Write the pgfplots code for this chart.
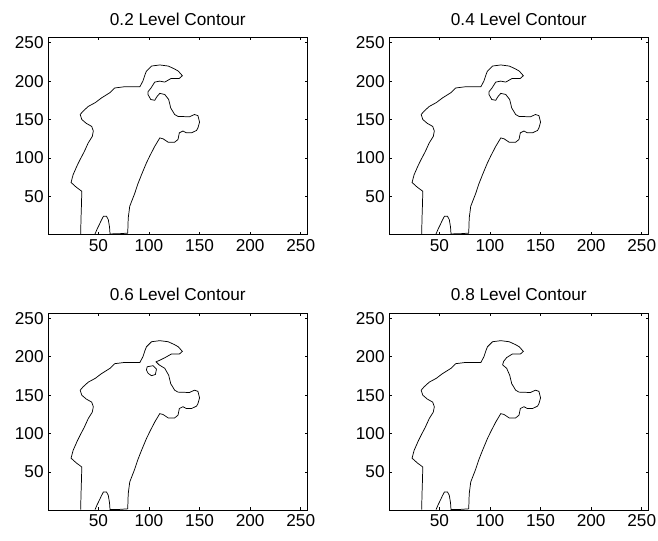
\documentclass[border=0pt]{standalone}
\usepackage{fontspec}
\setmainfont{Liberation Sans}
\usepackage{pgfplots}
\usepackage{pgfplotstable}
\pgfplotsset{compat=1.18}

% Plot 1 / 2 outline (0.2 and 0.4 levels)
\pgfplotstableread[row sep=\\]{
x y\\
32.5 1\\ 32.8 20\\ 33.3 40\\ 33.6 56.5\\ 28 62\\ 23 68\\ 25 78\\ 29 90\\ 32 98\\ 36 108\\ 40 119.6\\ 44 128\\ 45 135\\ 43.4 141\\ 38 145\\ 33.6 150\\ 32 156.5\\ 35 161\\ 40 167\\ 47 172\\ 53 178\\ 61.5 185\\ 66 191\\ 75 192.5\\ 83 192.6\\ 91 192.6\\ 94 200\\ 96 208\\ 97.5 213\\ 102.5 219.6\\ 110.7 221\\ 119 219.6\\ 125 216\\ 129 213\\ 133 207\\ 130 203.5\\ 122 203.5\\ 115.6 198.7\\ 110.7 200\\ 105.7 198.7\\ 102 191\\ 99 186\\ 99 182.6\\ 101.8 176\\ 105.7 175\\ 108 180\\ 110.7 184\\ 115.6 182.6\\ 119.5 176\\ 121.5 165\\ 125.4 156.5\\ 128.7 154\\ 140 153.5\\ 145 156.5\\ 148.4 155\\ 150 146.5\\ 148.4 139\\ 147 135.7\\ 142 132.6\\ 137 132.6\\ 133.6 135\\ 130 132.6\\ 128.7 124\\ 125.4 120.4\\ 119 120.4\\ 114 124.8\\ 110.7 126\\ 105.7 115\\ 101 103\\ 97.5 93.5\\ 92.6 78\\ 89 66\\ 86 54\\ 81 37\\ 79.5 21.7\\ 79 2\\ 70 1.2\\ 61.5 1\\ 61 10\\ 59.8 19.6\\ 58 24\\ 55 24\\ 53 19\\ 51.6 15\\ 49 8\\ 46.7 1\\
}\bodyA

% Plot 3 outline (0.6 level)
\pgfplotstableread[row sep=\\]{
x y\\
32.5 1\\ 32.8 20\\ 33.3 40\\ 33.6 56.5\\ 28 62\\ 23 68\\ 25 78\\ 29 90\\ 32 98\\ 36 108\\ 40 119.6\\ 44 128\\ 45 135\\ 43.4 141\\ 38 145\\ 33.6 150\\ 32 156.5\\ 35 161\\ 40 167\\ 47 172\\ 53 178\\ 61.5 185\\ 66 191\\ 75 192.5\\ 83 192.6\\ 91 192.6\\ 94 200\\ 96 208\\ 97.5 213\\ 102.5 219.6\\ 110.7 221\\ 119 219.6\\ 125 216\\ 129 213\\ 133 207\\ 130 203.5\\ 122 203.5\\ 115.6 198.7\\ 110.7 195.5\\ 107 193.5\\ 110 189.5\\ 115.6 185\\ 119.5 176\\ 121.5 165\\ 125.4 156.5\\ 128.7 154\\ 140 153.5\\ 145 156.5\\ 148.4 155\\ 150 146.5\\ 148.4 139\\ 147 135.7\\ 142 132.6\\ 137 132.6\\ 133.6 135\\ 130 132.6\\ 128.7 124\\ 125.4 120.4\\ 119 120.4\\ 114 124.8\\ 110.7 126\\ 105.7 115\\ 101 103\\ 97.5 93.5\\ 92.6 78\\ 89 66\\ 86 54\\ 81 37\\ 79.5 21.7\\ 79 2\\ 70 1.2\\ 61.5 1\\ 61 10\\ 59.8 19.6\\ 58 24\\ 55 24\\ 53 19\\ 51.6 15\\ 49 8\\ 46.7 1\\
}\bodyC

% Plot 3 small closed loop
\pgfplotstableread[row sep=\\]{
x y\\
98.2 187\\ 104 188.4\\ 107.4 184\\ 106.4 177\\ 102.5 175.4\\ 99.2 178.4\\ 97.5 182.8\\ 98.2 187\\
}\loopC

% Plot 4 outline (0.8 level)
\pgfplotstableread[row sep=\\]{
x y\\
32.5 1\\ 32.8 20\\ 33.3 40\\ 33.6 56.5\\ 28 62\\ 23 68\\ 25 78\\ 29 90\\ 32 98\\ 36 108\\ 40 119.6\\ 44 128\\ 45 135\\ 43.4 141\\ 38 145\\ 33.6 150\\ 32 156.5\\ 35 161\\ 40 167\\ 47 172\\ 53 178\\ 61.5 185\\ 66 191\\ 75 192.5\\ 83 192.6\\ 91 192.6\\ 94 200\\ 96 208\\ 97.5 213\\ 102.5 219.6\\ 110.7 221\\ 119 219.6\\ 125 216\\ 129 213\\ 133 207\\ 130 203.5\\ 122 203.5\\ 116.5 199\\ 113.5 194\\ 112.5 189.5\\ 116.5 185\\ 119.5 176\\ 121.5 165\\ 125.4 156.5\\ 128.7 154\\ 140 153.5\\ 145 156.5\\ 148.4 155\\ 150 146.5\\ 148.4 139\\ 147 135.7\\ 142 132.6\\ 137 132.6\\ 133.6 135\\ 130 132.6\\ 128.7 124\\ 125.4 120.4\\ 119 120.4\\ 114 124.8\\ 110.7 126\\ 105.7 115\\ 101 103\\ 97.5 93.5\\ 92.6 78\\ 89 66\\ 86 54\\ 81 37\\ 79.5 21.7\\ 79 2\\ 70 1.2\\ 61.5 1\\ 61 10\\ 59.8 19.6\\ 58 24\\ 55 24\\ 53 19\\ 51.6 15\\ 49 8\\ 46.7 1\\
}\bodyD

\pgfplotsset{
  panel/.style={
    scale only axis,
    width=194.25pt, height=147.45pt,
    anchor=south west,
    xmin=0.5, xmax=256.5, ymin=0.5, ymax=256.5,
    xtick={50,100,150,200,250},
    ytick={50,100,150,200,250},
    tick align=inside,
    major tick length=2pt,
    axis line style={line width=0.6pt},
    every tick/.style={black, line width=0.5pt},
    /pgf/number format/assume math mode=true,
    tick label style={font=\fontsize{12.9}{15}\selectfont},
    title style={font=\fontsize{12.9}{15}\selectfont, at={(0.5,1)}, anchor=base, yshift=3.5pt, inner sep=0pt},
    clip=true,
  },
  contourline/.style={black, line width=0.55pt, no markers},
}

\begin{document}
\begin{tikzpicture}
\useasboundingbox (0pt,0pt) rectangle (493.5pt,405pt);

\begin{axis}[panel, at={(36.225pt,229.275pt)}, title={0.2 Level Contour}]
\addplot[contourline] table {\bodyA};
\end{axis}

\begin{axis}[panel, at={(291.975pt,229.275pt)}, title={0.4 Level Contour}]
\addplot[contourline] table {\bodyA};
\end{axis}

\begin{axis}[panel, at={(36.225pt,22.5pt)}, title={0.6 Level Contour}]
\addplot[contourline] table {\bodyC};
\addplot[contourline] table {\loopC};
\end{axis}

\begin{axis}[panel, at={(291.975pt,22.5pt)}, title={0.8 Level Contour}]
\addplot[contourline] table {\bodyD};
\end{axis}

\end{tikzpicture}
\end{document}
